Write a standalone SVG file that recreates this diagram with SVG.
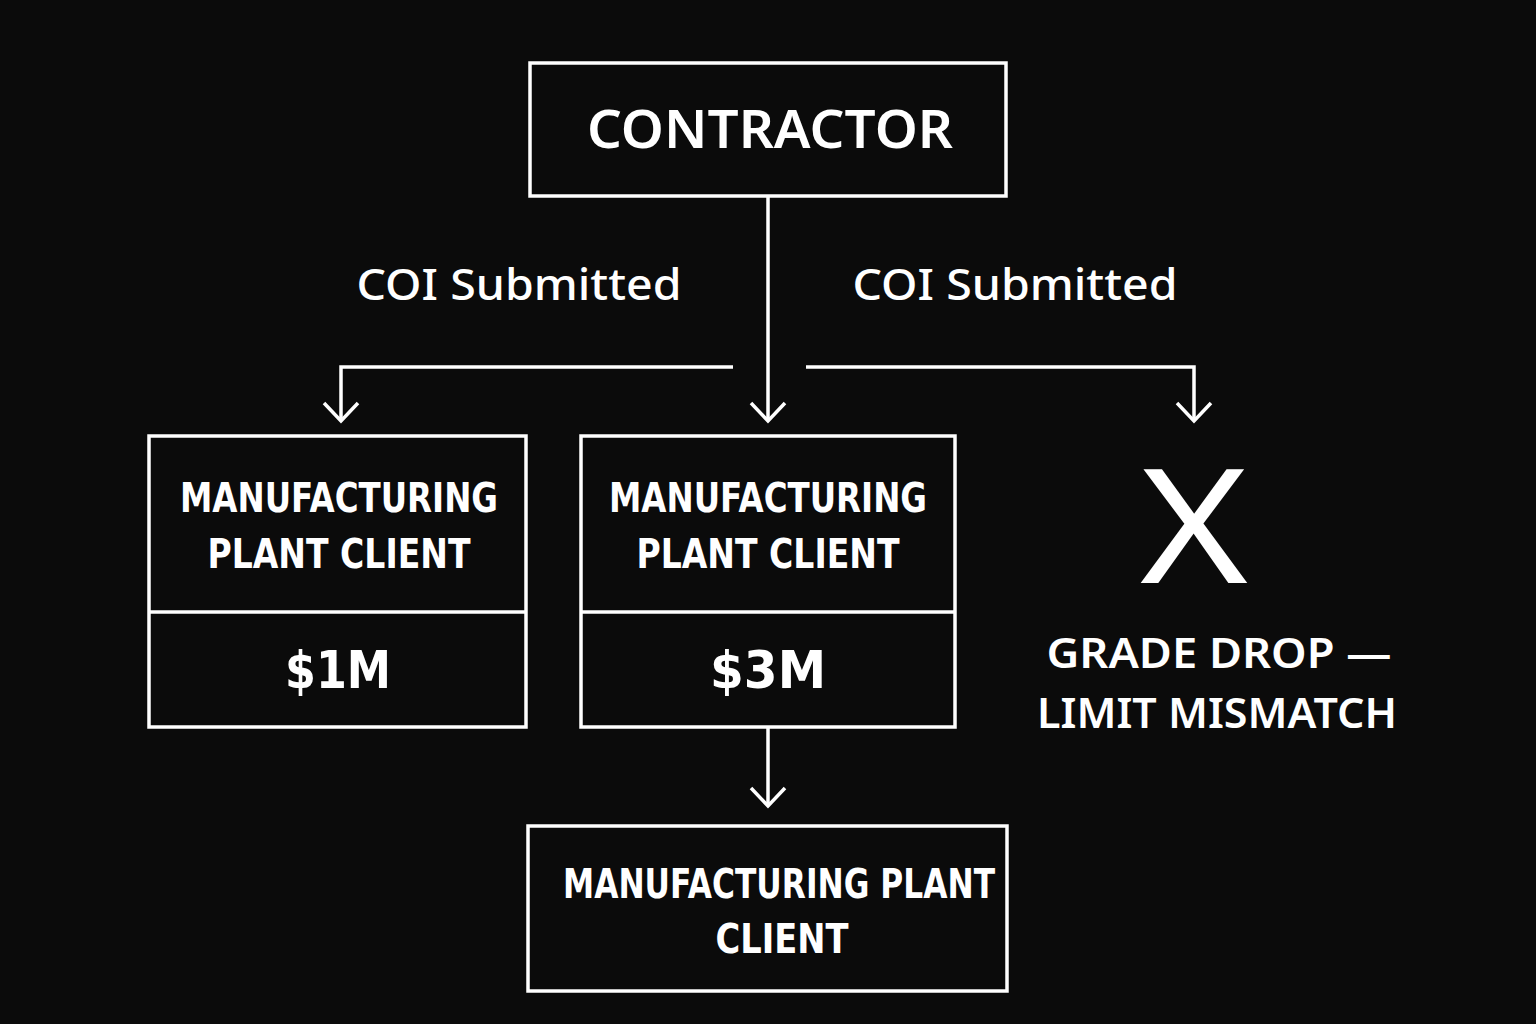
<svg xmlns="http://www.w3.org/2000/svg" width="1536" height="1024" viewBox="0 0 1536 1024">
<style>
.b{fill:none;stroke:#fff;stroke-width:3.5}
.t{fill:#fff;font-family:"DejaVu Sans","Noto Sans",sans-serif;font-weight:bold;text-anchor:middle}
.l{fill:#fff;font-family:"Noto Sans",sans-serif;font-weight:500;text-anchor:middle}
.c{fill:none;stroke:#fff;stroke-width:3.5}
</style>
<rect width="1536" height="1024" fill="#0b0b0b"/>
<g id="connectors">
<path class="c" d="M768 196V420M733 367H341V420M806 367H1194V420M768 727V805"/>
<path class="c" d="M751 403L768 421L785 403M324 403L341 421L358 403M1177 403L1194 421L1211 403M751 788L768 806L785 788"/>
<text class="l" x="519" y="300" font-size="44" textLength="325" lengthAdjust="spacingAndGlyphs">COI Submitted</text>
<text class="l" x="1015" y="300" font-size="44" textLength="325" lengthAdjust="spacingAndGlyphs">COI Submitted</text>
</g>
<g id="contractor">
<rect class="b" x="530" y="63" width="476" height="133"/>
<text class="l" x="770" y="148" font-size="52" style="font-weight:600" textLength="366" lengthAdjust="spacingAndGlyphs">CONTRACTOR</text>
</g>
<g id="client1">
<rect class="b" x="149" y="436" width="377" height="291"/>
<line class="b" x1="149" y1="612" x2="526" y2="612"/>
<text class="t" x="339" y="512" font-size="40" textLength="318" lengthAdjust="spacingAndGlyphs">MANUFACTURING</text>
<text class="t" x="339" y="568" font-size="40" textLength="263" lengthAdjust="spacingAndGlyphs">PLANT CLIENT</text>
<text class="t" x="338" y="688" font-size="52" textLength="106" lengthAdjust="spacingAndGlyphs">$1M</text>
</g>
<g id="client2">
<rect class="b" x="581" y="436" width="374" height="291"/>
<line class="b" x1="581" y1="612" x2="955" y2="612"/>
<text class="t" x="768" y="512" font-size="40" textLength="318" lengthAdjust="spacingAndGlyphs">MANUFACTURING</text>
<text class="t" x="768" y="568" font-size="40" textLength="263" lengthAdjust="spacingAndGlyphs">PLANT CLIENT</text>
<text class="t" x="768" y="688" font-size="52" textLength="116" lengthAdjust="spacingAndGlyphs">$3M</text>
</g>
<g id="reject">
<text class="l" x="1194" y="583" font-size="160" style="font-weight:400" textLength="108" lengthAdjust="spacingAndGlyphs">X</text>
<text class="l" x="1219" y="668" font-size="42" style="font-weight:600" textLength="345" lengthAdjust="spacingAndGlyphs">GRADE DROP —</text>
<text class="l" x="1217" y="728" font-size="42" style="font-weight:600" textLength="360" lengthAdjust="spacingAndGlyphs">LIMIT MISMATCH</text>
</g>
<g id="client3">
<rect class="b" x="528" y="826" width="479" height="165"/>
<text class="t" x="779" y="898" font-size="40" textLength="432" lengthAdjust="spacingAndGlyphs">MANUFACTURING PLANT</text>
<text class="t" x="782" y="953" font-size="40" textLength="133" lengthAdjust="spacingAndGlyphs">CLIENT</text>
</g>
</svg>
